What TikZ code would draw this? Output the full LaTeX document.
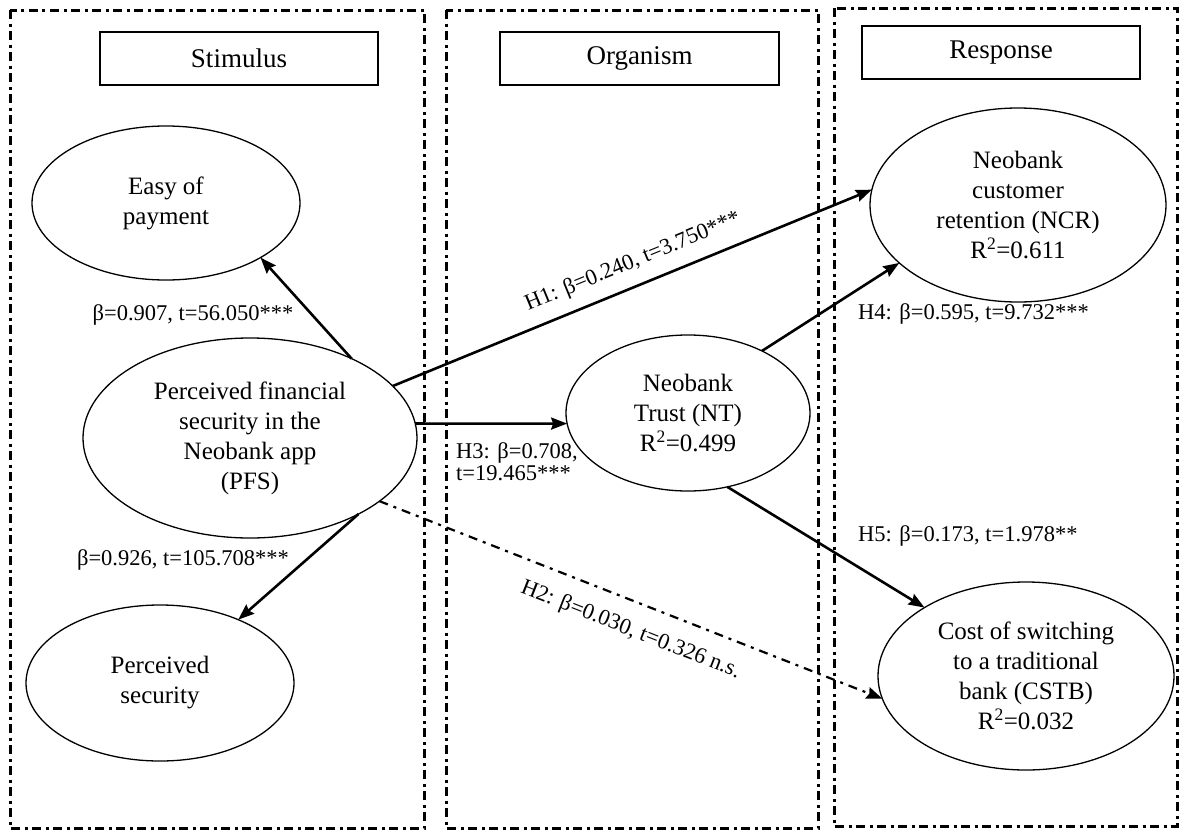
\documentclass[tikz,border=0pt]{standalone}
\usepackage{fontspec}
\setmainfont{Liberation Serif}
\usetikzlibrary{arrows.meta,shapes.geometric}
\begin{document}
\begin{tikzpicture}[x=1pt,y=-1pt,
  panel/.style={line width=3pt, dash pattern=on 9pt off 4.5pt on 3pt off 4.5pt},
  headbox/.style={draw, line width=1.5pt, minimum width=278pt, minimum height=53pt, inner sep=0pt, font=\fontsize{27}{32}\selectfont},
  latent/.style={draw, ellipse, line width=1.3pt, inner sep=0pt, outer sep=0pt, align=center, font=\fontsize{25}{30}\selectfont},
  conn/.style={line width=2.6pt, -{Stealth[length=16pt,width=12pt,inset=2pt]}},
  ns/.style={line width=2.2pt, dash pattern=on 9pt off 6pt on 3pt off 6pt, -{Stealth[length=16pt,width=12pt,inset=2pt]}},
  lbl/.style={font=\fontsize{22.5}{22}\selectfont, inner sep=2pt},
]
\useasboundingbox (0,0) rectangle (1181,830);
% panels
\draw[panel] (10,10) rectangle (424,828);
\draw[panel] (446,10) rectangle (818,828);
\draw[panel] (834,8) rectangle (1177,826);
% headers
\node[headbox] (stim) at (239,58.5) {Stimulus};
\node[headbox, minimum width=279pt] (org) at (639.5,58.5) {Organism};
\node[headbox] (resp) at (1001,52.5) {Response};
% constructs
\node[latent, minimum width=268pt, minimum height=154pt] (easy) at (166,203) {Easy of\\payment};
\node[latent, minimum width=334pt, minimum height=200pt] (pfs) at (250,438) {Perceived financial\\security in the\\Neobank app\\(PFS)};
\node[latent, minimum width=268pt, minimum height=156pt] (ps) at (160,683) {Perceived\\security};
\node[latent, minimum width=244pt, minimum height=156pt] (nt) at (688,413) {Neobank\\Trust (NT)\\R\textsuperscript{2}=0.499};
\node[latent, minimum width=296pt, minimum height=194pt] (ncr) at (1018,205) {Neobank\\customer\\retention (NCR)\\R\textsuperscript{2}=0.611};
\node[latent, minimum width=296pt, minimum height=188pt] (cstb) at (1026,676) {Cost of switching\\to a traditional\\bank (CSTB)\\R\textsuperscript{2}=0.032};
% connectors
\draw[conn] (pfs.38) -- (easy.-30);
\draw[conn] (pfs.-35) -- (ps.39);
\draw[conn] (pfs.5) -- (nt.185);
\draw[conn] (pfs.20) -- node[lbl, sloped, above=10pt, pos=0.52] (h1) {H1: β=0.240, t=3.750***} (ncr.174);
\draw[ns] (pfs.-26) -- node[lbl, sloped, below=15pt, pos=0.52] (h2) {H2: β=0.030, t=0.326 n.s.} (cstb.189);
\draw[conn] (nt.40) -- (ncr.206);
\draw[conn] (nt.-62) -- (cstb.146);
% labels
\node[lbl] (l907) at (193,315) {β=0.907, t=56.050***};
\node[lbl] (l926) at (183,560) {β=0.926, t=105.708***};
\node[lbl, anchor=west, align=left] (h3) at (454,462) {H3: β=0.708,\\t=19.465***};
\node[lbl, anchor=west] (h4) at (856,314) {H4: β=0.595, t=9.732***};
\node[lbl, anchor=west] (h5) at (856,536) {H5: β=0.173, t=1.978**};
\end{tikzpicture}
\end{document}
